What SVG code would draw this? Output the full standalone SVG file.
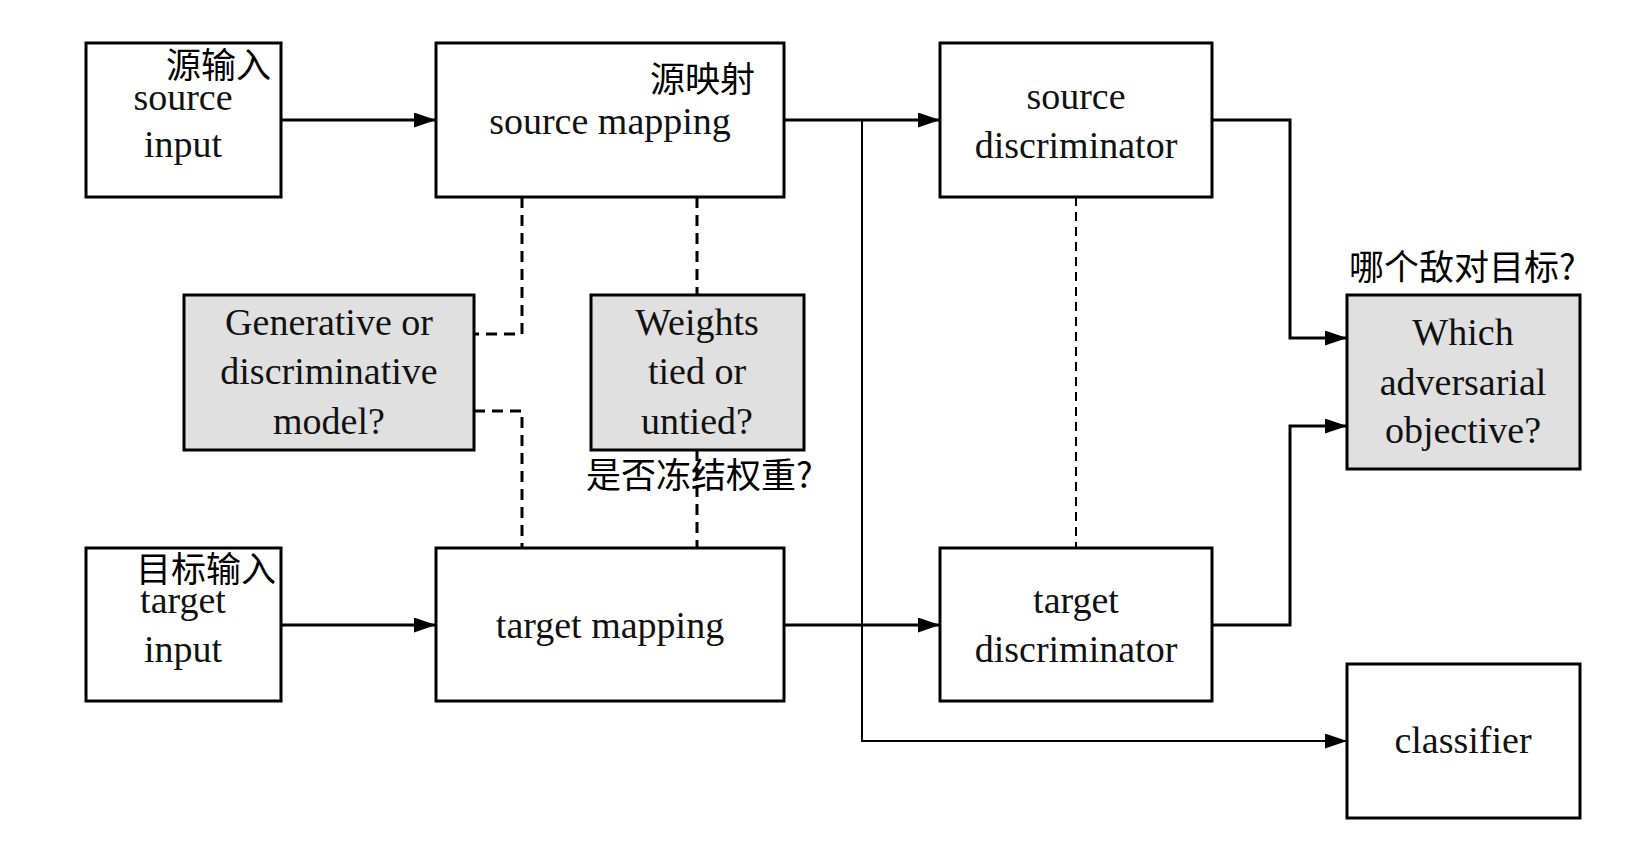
<svg xmlns="http://www.w3.org/2000/svg" width="1648" height="850" viewBox="0 0 1648 850">
<style>
.box{fill:#fff;stroke:#000;stroke-width:3}
.q{fill:#e0e0e0;stroke:#000;stroke-width:3}
.t{font-family:"Liberation Serif","Times New Roman",serif;font-size:38px;fill:#111;text-anchor:middle}
.c{font-family:"Noto Sans CJK SC","Noto Sans",sans-serif;font-size:35px;fill:#000}
.w{fill:none;stroke:#000;stroke-width:3}
.n{fill:none;stroke:#000;stroke-width:2}
.d{fill:none;stroke:#000;stroke-width:3;stroke-dasharray:11 7}
.dt{fill:none;stroke:#000;stroke-width:2;stroke-dasharray:9 6}
</style>
<defs>
<marker id="ah" markerUnits="userSpaceOnUse" markerWidth="22" markerHeight="15" refX="22" refY="7.5" orient="auto">
<path d="M0,0 L22,7.5 L0,15 z" fill="#000"/>
</marker>
</defs>
<rect width="1648" height="850" fill="#fff"/>
<g id="connectors">
<path class="w" d="M281,120 H436" marker-end="url(#ah)"/>
<path class="w" d="M784,120 H940" marker-end="url(#ah)"/>
<path class="w" d="M281,625 H436" marker-end="url(#ah)"/>
<path class="w" d="M784,625 H940" marker-end="url(#ah)"/>
<path class="n" d="M862,120 V741 H1347" marker-end="url(#ah)"/>
<path class="w" d="M1212,120 H1290 V338 H1347" marker-end="url(#ah)"/>
<path class="w" d="M1212,625 H1290 V426 H1347" marker-end="url(#ah)"/>
<path class="d" d="M522,197 V334 H474"/>
<path class="d" d="M474,411 H522 V548"/>
<path class="d" d="M697,197 V295"/>
<path class="d" d="M697,450 V548"/>
<path class="dt" d="M1076,197 V548"/>
</g>
<g id="source-input">
<rect class="box" x="86" y="43" width="195" height="154"/>
<text class="c" x="166" y="78">源输入</text>
<text class="t" x="183" y="110">source</text>
<text class="t" x="183" y="157">input</text>
</g>
<g id="source-mapping">
<rect class="box" x="436" y="43" width="348" height="154"/>
<text class="c" x="650" y="92">源映射</text>
<text class="t" x="610" y="134">source mapping</text>
</g>
<g id="source-discriminator">
<rect class="box" x="940" y="43" width="272" height="154"/>
<text class="t" x="1076" y="109">source</text>
<text class="t" x="1076" y="158">discriminator</text>
</g>
<g id="generative">
<rect class="q" x="184" y="295" width="290" height="155"/>
<text class="t" x="329" y="335">Generative or</text>
<text class="t" x="329" y="384">discriminative</text>
<text class="t" x="329" y="434">model?</text>
</g>
<g id="weights">
<rect class="q" x="591" y="295" width="213" height="155"/>
<text class="t" x="697" y="335">Weights</text>
<text class="t" x="697" y="384">tied or</text>
<text class="t" x="697" y="434">untied?</text>
<text class="c" x="586" y="488">是否冻结权重?</text>
</g>
<g id="objective">
<rect class="q" x="1347" y="295" width="233" height="174"/>
<text class="c" x="1349" y="280">哪个敌对目标?</text>
<text class="t" x="1463" y="345">Which</text>
<text class="t" x="1463" y="395">adversarial</text>
<text class="t" x="1463" y="443">objective?</text>
</g>
<g id="target-input">
<rect class="box" x="86" y="548" width="195" height="153"/>
<text class="c" x="136" y="582">目标输入</text>
<text class="t" x="183" y="613">target</text>
<text class="t" x="183" y="662">input</text>
</g>
<g id="target-mapping">
<rect class="box" x="436" y="548" width="348" height="153"/>
<text class="t" x="610" y="638">target mapping</text>
</g>
<g id="target-discriminator">
<rect class="box" x="940" y="548" width="272" height="153"/>
<text class="t" x="1076" y="613">target</text>
<text class="t" x="1076" y="662">discriminator</text>
</g>
<g id="classifier">
<rect class="box" x="1347" y="664" width="233" height="154"/>
<text class="t" x="1463" y="753">classifier</text>
</g>
</svg>
